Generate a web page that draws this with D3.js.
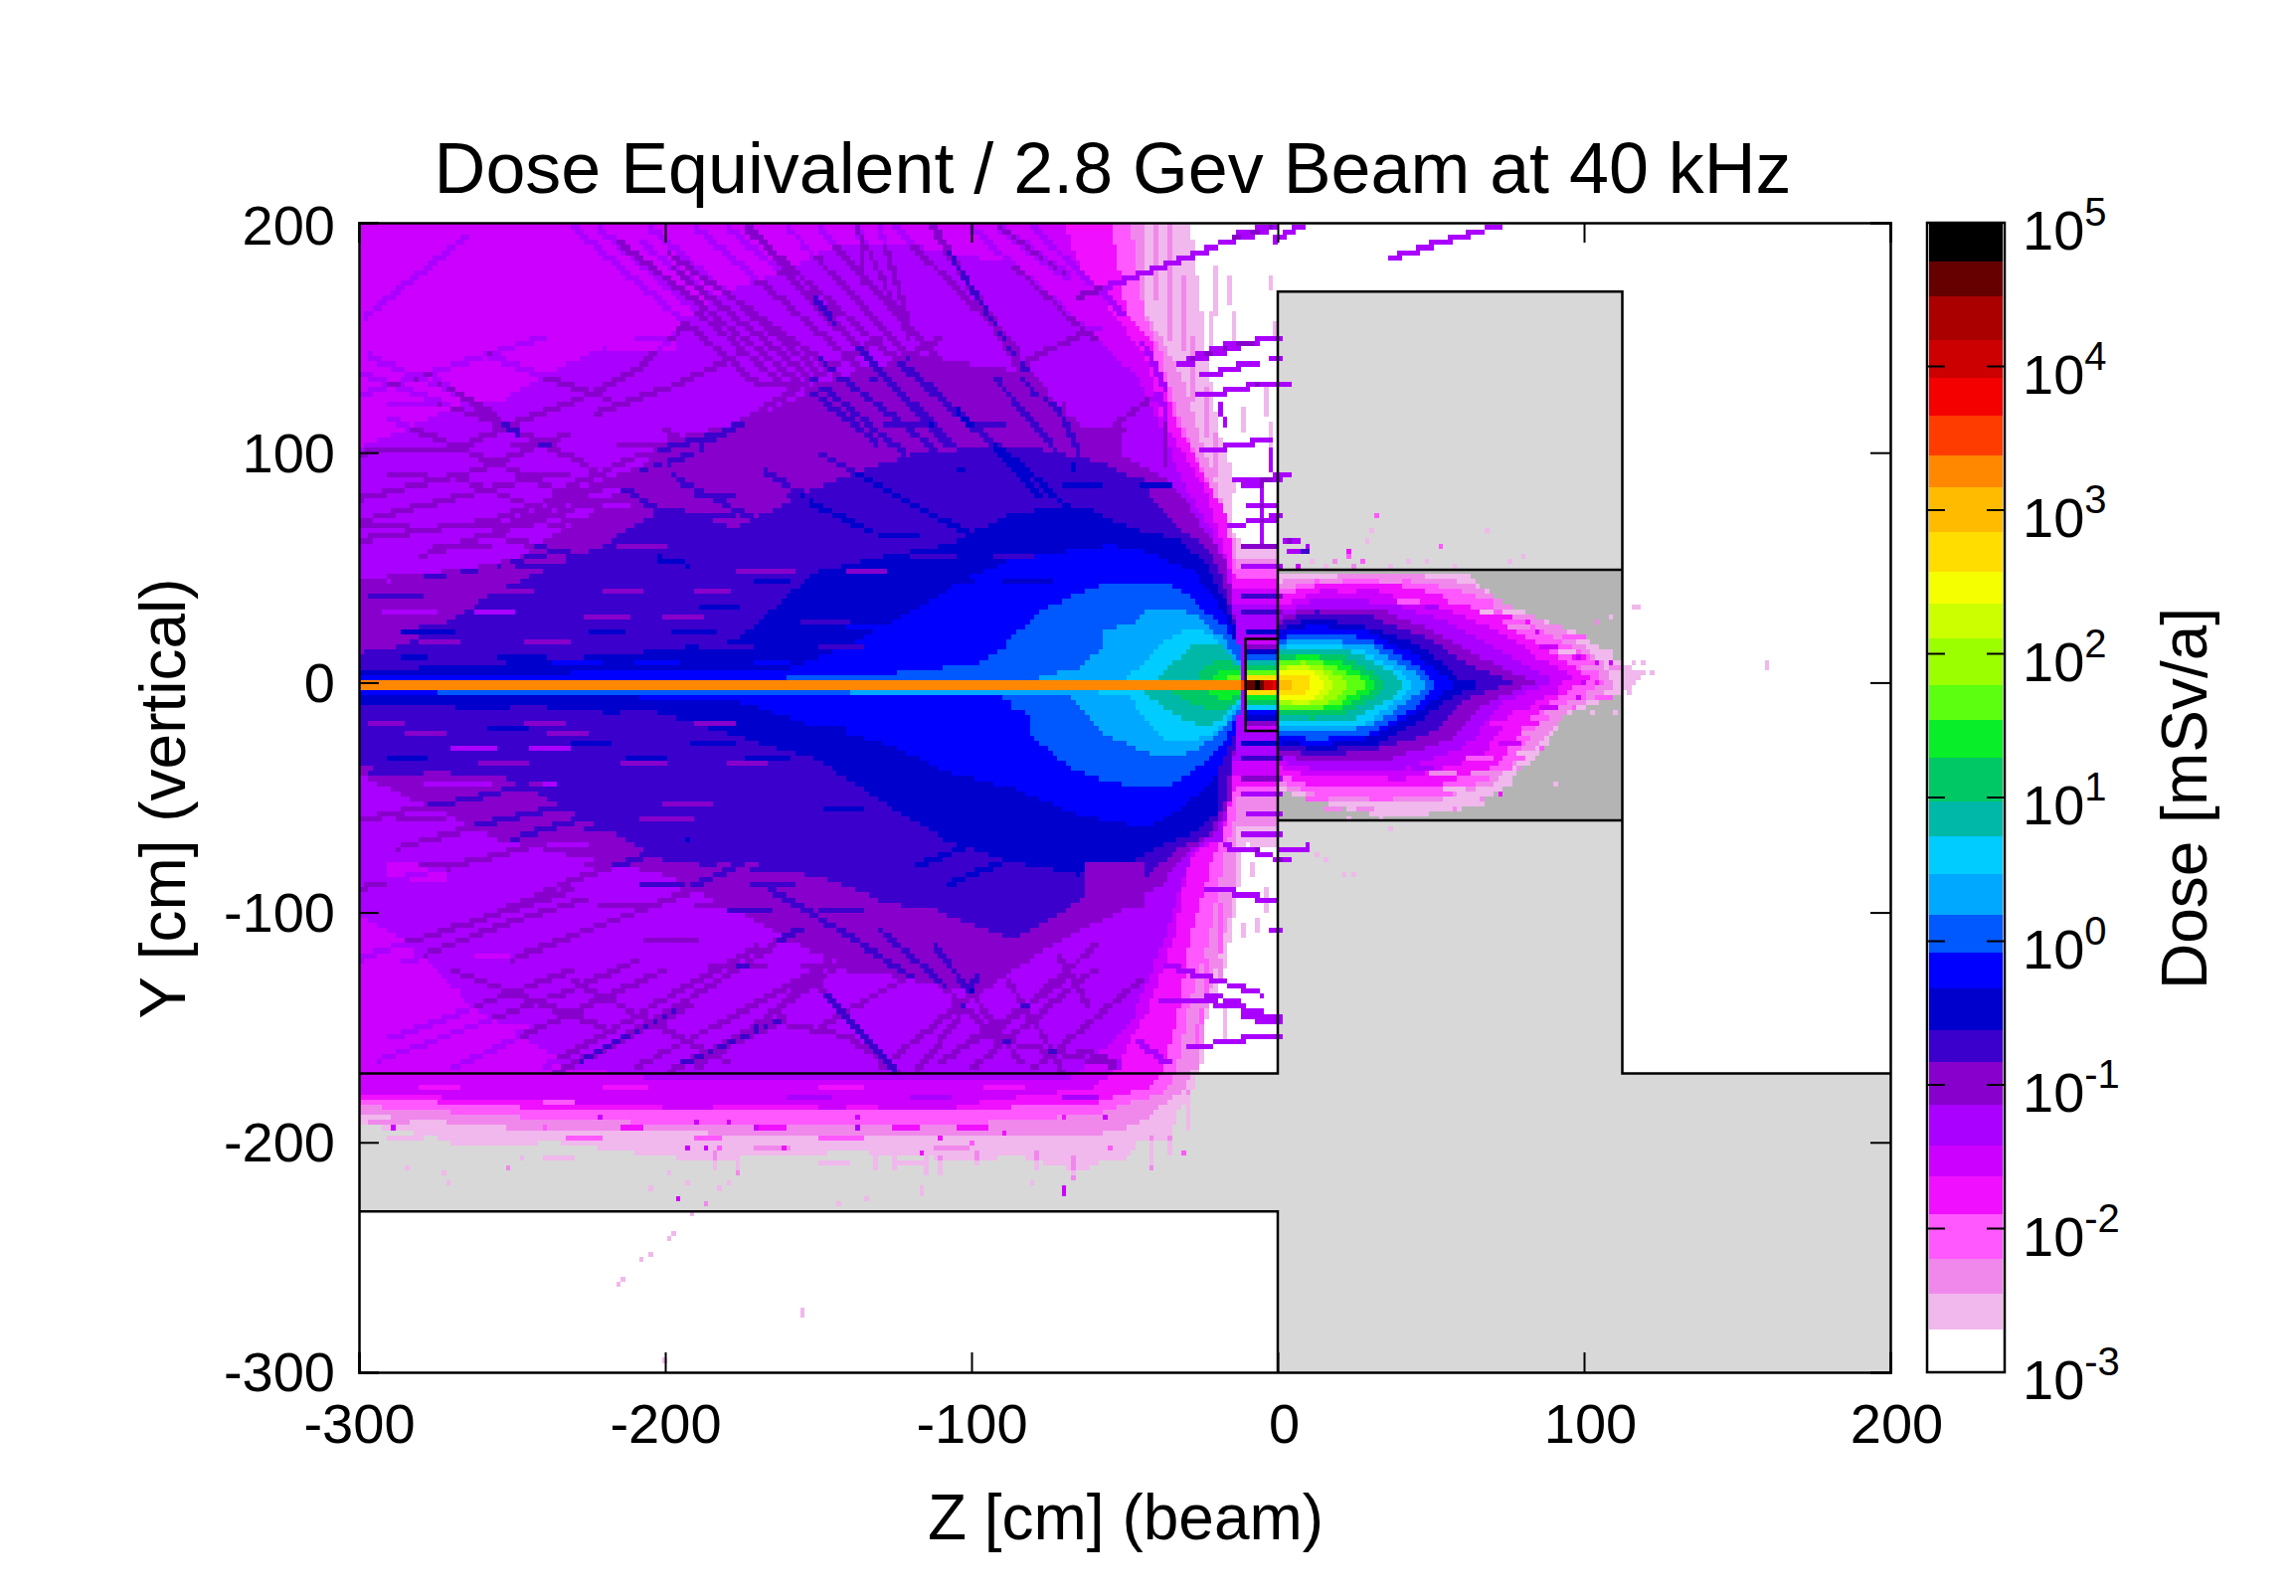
<!DOCTYPE html>
<html>
<head>
<meta charset="utf-8">
<script src="https://cdn.jsdelivr.net/npm/d3@7"></script>
<style>
  html, body { margin: 0; padding: 0; background: #fff; }
  text { font-family: "Liberation Sans", Arial, sans-serif; fill: #000; }
</style>
</head>
<body>
<div id="chart-area"></div>
<script>
// ---- axis values
const zTicks = [-300, -200, -100, 0, 100, 200];
const yTicks = [-300, -200, -100, 0, 100, 200];
const doseDecades = [-3, -2, -1, 0, 1, 2, 3, 4, 5];

// ---- palette: log10 dose edges and colours, lowest band (white) first
const bandEdges = [-3, -2.7, -2.45, -2.21, -1.9, -1.64, -1.42, -1.14, -0.84, -0.62, -0.33, -0.08, 0.18, 0.47, 0.73, 0.97,
    1.28, 1.54, 1.78, 2.11, 2.35, 2.57, 2.85, 3.16, 3.38, 3.66, 3.92, 4.18, 4.49, 4.73, 5];
const bandColors = ["#ffffff", "#f0b8ec", "#f088ec", "#ff58ff", "#f010ff", "#cc00ff", "#aa00ff", "#8800cc", "#3c00cc", "#0000cc",
    "#0000ff", "#0058ff", "#00a8ff", "#00ccff", "#00b8a8", "#00c864", "#08ee28", "#5cff10", "#9cff00", "#ccff00",
    "#f5ff00", "#ffdd00", "#ffbb00", "#ff8800", "#ff3c00", "#f50000", "#cc0000", "#aa0000", "#660000", "#000000"];

// ---- geometry [z, y] in cm
const wallGray = [[0, 170], [112.5, 170], [112.5, -170], [200, -170], [200, -300], [0, -300], [0, -230], [-300, -230], [-300, -170], [0, -170]];
const wallDark = [[0, 49], [112.5, 49], [112.5, -60], [0, -60]];
const outlineUpper = [[-300, -170], [0, -170], [0, 170], [112.5, 170], [112.5, -170], [200, -170]];
const outlineLower = [[-300, -230], [0, -230], [0, -300]];
const outlineDarkTop = [[0, 49], [112.5, 49]];
const outlineDarkBottom = [[0, -60], [112.5, -60]];
const outlineTarget = [[0, 19], [-10.5, 19], [-10.5, -21], [0, -21]];

// ---- iso-dose outlines upstream of the target, index 0 = band 1
const leftContours = [
    [[-300, 205], [-29, 205], [-27, 185], [-25, 165], [-24, 149], [-22, 133], [-20, 115], [-18, 103], [-15, 92], [-14, 85], [-16, 67], [-11, 60], [0, 60], [0, -72], [-11, -70], [-12, -80], [-13, -92], [-15, -108], [-17, -124], [-22, -140], [-24, -150], [-26, -170], [-28, -178], [-32, -185], [-35, -198], [-46, -200], [-48, -205], [-55, -206], [-62, -212], [-70, -211], [-85, -206], [-100, -208], [-120, -206], [-140, -204], [-162, -206], [-180, -207], [-203, -206], [-235, -200], [-265, -201], [-285, -195], [-300, -192]],
    [[-300, 205], [-44, 205], [-43, 160], [-36.5, 146], [-31, 132], [-24.6, 103], [-19, 83], [-17, 70], [-14, 62], [-14, 55], [0, 55], [0, -62], [-13, -62], [-14, -75], [-14, -92], [-20, -124], [-24.6, -147], [-28, -170], [-30, -176], [-45, -192], [-60, -197], [-100, -198], [-145, -198], [-200, -195], [-240, -195], [-300, -188]],
    [[-300, 205], [-48.4, 205], [-45, 170], [-43, 159], [-38.7, 146], [-34.3, 123], [-27, 100], [-20.3, 80], [-17, 60], [-13, 50], [0, 50], [0, -50], [-13, -50], [-14, -60], [-18, -78], [-22.5, -112], [-29, -141], [-33, -170], [-37, -178], [-60, -188], [-100, -192], [-140, -193], [-200, -192], [-240, -190], [-300, -184]],
    [[-300, 205], [-55, 205], [-49.5, 160], [-41, 147.6], [-38.7, 132], [-32, 111], [-24.6, 91], [-17, 74], [-14, 45], [0, 45], [0, -45], [-14, -45], [-17, -62], [-21.5, -78], [-29, -112], [-32, -141], [-37.6, -170], [-42, -176], [-60, -183], [-120, -187], [-180, -187], [-224, -186], [-300, -182]],
    [[-300, 205], [-71, 205], [-64.6, 181], [-56, 165], [-50.6, 155], [-42, 139], [-38.7, 117], [-31, 100], [-23.5, 83], [-19, 65], [-14, 40], [0, 40], [0, -40], [-14, -40], [-18, -62], [-23.5, -71], [-29, -78], [-34, -112], [-43, -144], [-53.8, -169], [-60, -176], [-100, -183], [-120, -185], [-224, -183], [-300, -179]],
    [[-300, 103], [-285, 110], [-265, 122], [-253, 123], [-230, 140], [-215, 148], [-199, 153], [-180, 170], [-160, 180], [-145, 190], [-118, 190], [-86, 182], [-62, 153], [-45, 132], [-36.5, 106], [-30, 84], [-21, 65], [-15, 35], [0, 35], [0, -35], [-15, -35], [-18, -68], [-27, -72], [-31, -85], [-36.6, -110], [-48, -148], [-64.6, -169], [-70, -173], [-120, -173], [-200, -173], [-231, -167], [-263, -141], [-285, -112], [-300, -101]],
    [[-300, 42], [-285, 45], [-253, 51], [-220, 77], [-199, 106], [-172, 114], [-145, 132], [-118, 142], [-86, 136], [-54, 101], [-36.5, 88], [-31, 81], [-23.5, 65], [-17, 54], [-15, 38], [-14, 26], [-14, -26], [-15, -50], [-21, -66], [-30, -73.6], [-37.6, -88], [-54, -101], [-75, -115], [-97, -135], [-129, -127], [-151, -118], [-199, -84], [-253, -69], [-300, -40]],
    [[-300, 13], [-285, 16], [-253, 41], [-220, 60], [-199, 77], [-177, 67], [-151, 85], [-118, 100], [-86, 103], [-69, 100], [-54, 94], [-43, 84], [-32, 67], [-23.5, 60], [-18, 45], [-15, 31], [-13, 20], [-13, -18], [-17, -52], [-22.5, -66], [-32, -72], [-43, -84], [-64.6, -95], [-86, -112], [-108, -101], [-129, -95], [-151, -84], [-199, -78], [-253, -41], [-300, -37]],
    [[-300, 5], [-263, 8], [-220, 11], [-177, 18], [-151, 48], [-129, 55], [-108, 60], [-86, 74], [-64, 77], [-48, 67], [-32, 62], [-23.5, 52], [-17, 35], [-13, 20], [-13, -20], [-20, -40], [-20, -57], [-28, -66], [-37, -70], [-48, -78], [-65, -84], [-86, -78], [-108, -69], [-129, -52], [-151, -33], [-170, -26], [-200, -14], [-253, -12], [-300, -10]],
    [[-300, 3], [-253, 4], [-199, 5], [-160, 6], [-140, 16], [-119, 31], [-102, 45], [-86, 54], [-54, 60], [-43, 57], [-27, 48], [-18, 31], [-13, 16], [-13, -20], [-15, -25], [-21, -43], [-32, -55], [-43, -63], [-65, -58], [-86, -46], [-108, -39], [-129, -26], [-151, -19], [-165, -13], [-180, -7], [-253, -6], [-300, -5.5]],
    [[-160, 2.5], [-138, 3], [-118, 5], [-97, 9], [-90, 14], [-86, 21], [-78, 31], [-66, 38], [-56, 43], [-43, 44], [-32, 41], [-25, 32], [-17, 24], [-12, 14], [-12, -10], [-13, -14.5], [-18, -26], [-25, -36], [-32, -43], [-40, -46], [-56, -43], [-67, -38], [-75, -29], [-81, -23], [-81, -14], [-87, -11.6], [-86, -7], [-100, -5.5], [-151, -5.5], [-275, -5.5], [-275, -2], [-160, -2]],
    [[-77.6, 2.7], [-64.6, 6.3], [-57, 16], [-57, 22], [-47, 26.5], [-43, 32], [-32, 32], [-25, 28], [-18, 19], [-12, 8], [-12, -10], [-13, -12], [-18, -20], [-25, -28], [-32, -32], [-40, -32], [-48, -27.5], [-56, -23], [-61, -16], [-65, -10], [-70, -4.5], [-140, -4.5], [-140, -2], [-78, -2]],
    [[-49, 3], [-43, 9], [-38, 17], [-32, 22], [-26, 24], [-21, 20], [-16, 13], [-12.5, 5], [-12, -8], [-13.8, -10], [-17, -17.4], [-23, -24], [-36.5, -25], [-44.6, -14.5], [-48, -6], [-69, -3], [-69, -1], [-49, -1]],
    [[-38.7, 3], [-34, 9], [-27, 17], [-19, 17], [-13, 9], [-12, -6], [-13, -7], [-16, -13], [-21.5, -18.8], [-28, -17.4], [-36.5, -11.6], [-45, -3], [-45, -1], [-38.7, -1]],
    [[-25.7, 3], [-23.5, 8], [-17, 10], [-12, 7], [-12, -7], [-13, -8.7], [-20.3, -13], [-29, -8.7], [-36.5, -3], [-36, -1], [-26, -1]],
    [[-21, 3], [-17, 6], [-12, 5], [-12, -5], [-13, -6], [-18, -7.3], [-24.6, -3], [-24, -1], [-21, -1]],
    [[-16, 3], [-12, 3], [-12, -4], [-13, -4.4], [-18.7, -3], [-18, -1], [-16, -1]]
];

// ---- the beam pipe itself and the hot spot in the target
const beamRow = [[-300, 1.1], [-12.4, 1.1], [-12.4, -3.3], [-300, -3.3]];
const beamLevel = 23;
const coreEdges = [-12.4, -10.3, -8.1, -6.2, -4.3, -2.2, 0];
const coreLevels = [24, 28, 29, 28, 26, 25];

// ---- rings inside the target box: band, upper y, lower y
const boxLevels = [5, 7, 8, 9, 10, 11, 12, 13, 14, 15, 16, 17, 18, 19, 20, 21, 22];
const boxTop = [18.6, 16.9, 15, 13.5, 12.1, 11.4, 10.5, 10, 8.8, 7.1, 5.7, 4.9, 4.2, 3.8, 3.5, 2.8, 2.2];
const boxBottom = [-20.6, -18.9, -17.4, -16, -13.8, -12.8, -12.4, -11.5, -10.9, -9.5, -7.3, -6.5, -5.9, -5.2, -4.8, -4.4, -3.7];

// ---- iso-dose outlines inside the wall, index 0 = band 1
const lobeContours = [
    [[0, 47], [30, 48], [62.6, 47.4], [71, 36], [81.5, 30], [96, 23], [113, 8.5], [120.6, 4], [113, -4.5], [93, -14.6], [87, -29], [78.6, -39], [71, -48], [58, -56], [35, -59], [9, -50.6], [0, -46]],
    [[0, 43], [14, 46], [45, 47], [64, 42], [80, 31], [94, 22], [106, 9], [110, -2], [96, -12], [84, -28], [70, -44], [48, -53], [20, -52], [0, -45]],
    [[0, 40], [12, 44], [40, 45], [60, 40], [78, 28], [90, 20], [104, 9], [106, 0], [94, -9], [84, -20], [76, -38], [54, -50], [14, -49], [0, -43]],
    [[0, 37], [12, 42], [40, 42], [56, 37], [74, 26], [84, 17], [96, 8], [102, 2], [92, -6], [82, -16], [72, -36], [50, -46], [12, -45], [0, -40]],
    [[0, 33], [12, 39], [35, 38], [55, 32], [72, 22], [84, 12], [96, 3], [88, -6], [76, -14], [66, -33], [42, -42], [12, -41], [0, -37]],
    [[0, 30], [12, 36], [35, 35], [55, 27], [68, 17], [90, 1], [72, -10], [62, -28], [40, -38], [12, -38], [0, -34]],
    [[0, 28], [12, 33], [35, 31], [50, 23], [65, 12], [84, 0], [68, -9], [56, -25], [35, -34], [12, -35], [0, -31]],
    [[0, 26], [12, 31], [30, 29], [48, 20], [62, 8], [77, 0], [62, -7], [50, -22], [30, -30], [12, -32], [0, -29]],
    [[0, 23], [12, 28], [30, 24], [48, 15], [60, 1], [68, -1], [58, -5], [46, -17], [30, -28], [12, -29], [0, -27]],
    [[0, 21], [12, 25], [30, 22], [46, 11], [58, -1], [46, -13], [30, -24], [12, -27.5], [0, -24]],
    [[0, 19], [12, 22], [30, 19], [45, 8], [52, -1], [45, -11], [30, -22], [12, -25], [0, -22]],
    [[0, 17], [12, 19], [30, 16], [43, 6], [49, -1], [43, -8], [30, -19], [12, -22], [0, -20]],
    [[0, 15], [12, 17], [28, 14], [40, 5], [45, -1], [40, -7], [28, -18], [12, -19.5], [0, -18]],
    [[0, 13.5], [12, 15], [25, 13], [38, 4], [42, -1], [38, -6], [25, -16], [12, -17.5], [0, -16]],
    [[0, 12], [11, 13], [22, 11], [33, 3], [36, -1], [33, -5], [22, -14], [11, -15.5], [0, -14]],
    [[0, 10.5], [11, 11.5], [20, 9], [30, 3], [32, -1], [30, -4], [20, -12], [11, -13], [0, -12.5]],
    [[0, 9], [10, 10], [18, 8], [28, 1], [28, -3], [18, -10.5], [10, -12], [0, -11]],
    [[0, 7.5], [9, 9], [16, 6], [23, 1], [23, -3], [16, -9], [9, -11], [0, -9.5]],
    [[0, 6], [8, 7.5], [14, 5], [18, 1], [18, -3], [14, -8], [8, -9.5], [0, -8]],
    [[0, 4.5], [7, 6], [12, 5], [15, 1], [15, -3], [12, -7], [7, -8], [0, -6.5]],
    [[0, 3], [8, 4], [10, 2], [10, -4], [8, -6], [0, -5]],
    [[0, 1.5], [4, 1.5], [4, -3], [0, -3]]
];

// ---- patches that break up the bands: z0, y0, z1, y1, band
const patches = [
    [-140, -105, -108, -125, 7], [-128, -98, -112, -105, 7], [-62, -80, -44, -96, 7], [-218, 154, -198, 146, 5], [-285, 160, -262, 150, 5],
    [-238, -118, -218, -124, 6], [-290, -80, -272, -86, 5], [-60, 88, -45, 82, 8], [-70, 110, -52, 98, 7]
];

// ---- broken rows of the mottled field: y, band, then z start/end pairs
const mottleRows = [
    [150, 6, [-210, -198, -176, -160]], [130, 7, [-170, -158, -120, -108]], [120, 6, [-290, -274]], [112, 8, [-128, -116, -100, -90]], [104, 7, [-250, -236, -216, -202]],
    [95, 8, [-100, -88, -74, -60]], [90, 7, [-290, -278, -246, -232, -205, -190]], [86, 9, [-70, -58, -44, -36]], [82, 8, [-190, -178, -160, -146, -128, -115]], [76, 6, [-285, -268, -226, -212]],
    [72, 8, [-196, -178, -150, -136, -104, -90]], [68, 7, [-300, -285, -262, -244, -230, -218]], [64, 9, [-130, -118, -98, -84, -76, -60]], [60, 7, [-276, -258, -240, -226, -216, -200]],
    [56, 8, [-192, -176, -158, -146, -120, -106, -92, -80]], [52, 6, [-300, -288, -270, -256]], [50, 8, [-248, -232, -212, -200]], [48, 7, [-176, -158, -140, -128]],
    [44, 9, [-170, -160, -148, -136, -112, -100, -90, -74]], [40, 7, [-260, -244, -226, -208, -190, -180]], [38, 8, [-296, -280, -240, -228, -178, -166]], [34, 9, [-188, -176, -160, -148, -132, -120]],
    [30, 6, [-292, -276, -262, -250]], [28, 7, [-226, -212, -200, -188]], [26, 8, [-246, -232, -180, -170, -156, -140]], [24, 10, [-140, -128, -112, -100, -92, -84]], [22, 9, [-286, -270, -224, -214, -198, -184]],
    [18, 7, [-280, -268, -246, -232]], [16, 8, [-216, -204, -188, -172, -150, -136]], [14, 10, [-130, -118, -104, -96]], [12, 9, [-290, -278, -254, -240, -226, -210]], [10, 8, [-300, -288, -270, -256]], [8, 10, [-236, -222, -210, -196, -170, -160]],
    [-8, 9, [-296, -280, -262, -250, -240, -226]], [-10, 8, [-282, -270, -250, -240]], [-14, 8, [-298, -284, -268, -256, -214, -204]], [-17, 7, [-296, -286, -246, -234, -190, -178]], [-20, 9, [-258, -246, -176, -166, -155, -142]],
    [-23, 7, [-284, -272, -238, -226]], [-26, 9, [-230, -218, -192, -178]], [-29, 6, [-270, -256, -244, -232]], [-32, 9, [-290, -278, -212, -200, -174, -160]], [-36, 7, [-260, -246, -214, -200, -180, -168]],
    [-40, 8, [-296, -280, -238, -226, -206, -196]], [-44, 6, [-278, -258, -244, -236]], [-48, 8, [-224, -212, -190, -176, -160, -146]], [-52, 7, [-262, -246, -200, -186]], [-56, 9, [-148, -136, -124, -112]],
    [-60, 7, [-288, -272, -248, -232, -208, -192]], [-64, 8, [-226, -212, -184, -170, -146, -132]], [-70, 6, [-268, -254, -240, -226]], [-74, 8, [-208, -196, -178, -162]], [-80, 7, [-280, -266, -226, -208, -182, -170]],
    [-88, 8, [-208, -194, -172, -158, -140, -128]], [-96, 7, [-222, -208, -190, -172]], [-100, 8, [-180, -166, -150, -136]], [-104, 6, [-284, -270, -252, -238]], [-112, 7, [-206, -190, -164, -146]],
    [-118, 5, [-298, -280, -262, -250]], [-124, 7, [-186, -168, -156, -142]], [-135, 5, [-298, -284, -280, -268]], [-150, 5, [-296, -280, -262, -246]],
    [-176, 4, [-280, -268, -220, -206, -150, -136, -96, -84]], [-180, 6, [-160, -146, -120, -108, -70, -60]], [-182, 3, [-290, -276, -240, -230]], [-185, 5, [-200, -186, -150, -142, -118, -106]], [-188, 3, [-226, -212, -176, -160, -92, -80]],
    [-191, 2, [-296, -284, -258, -246, -62, -54]], [-194, 4, [-214, -208, -170, -162, -126, -118, -104, -96]], [-197, 1, [-290, -280, -262, -250, -60, -50]], [-197, 3, [-232, -222, -190, -182, -148, -136]],
    [-200, 1, [-270, -260, -220, -210, -130, -118, -86, -76]], [-203, 2, [-170, -160, -112, -102]], [-206, 1, [-240, -230, -196, -184, -64, -50]], [-209, 1, [-150, -140, -124, -116, -74, -64]],
    [44, 2, [2, 6, 14, 20, 34, 40, 52, 58]], [40, 5, [14, 18, 26, 32]], [36, 3, [40, 46, 56, 62, 66, 70]], [32, 6, [34, 40, 48, 52]], [30, 1, [66, 70, 74, 80]], [28, 4, [62, 66, 70, 76]], [25, 2, [76, 82, 88, 92]],
    [20, 3, [82, 86, 94, 100]], [16, 5, [76, 80, 86, 90]], [14, 1, [92, 96, 104, 108]], [10, 4, [84, 90, 96, 100]], [6, 2, [100, 104, 108, 112]], [4, 5, [86, 92]],
    [-6, 3, [94, 100, 104, 110]], [-10, 5, [76, 82, 86, 92]], [-14, 2, [88, 94]], [-18, 4, [70, 76, 80, 84]], [-22, 2, [80, 86]], [-26, 5, [62, 68, 72, 78]], [-30, 1, [78, 84]], [-34, 3, [62, 70, 74, 80]],
    [-38, 6, [44, 50]], [-40, 2, [50, 58, 64, 72]], [-44, 4, [22, 28, 38, 44]], [-46, 1, [54, 60, 66, 72]], [-50, 3, [10, 16, 30, 36]], [-52, 1, [40, 48, 58, 66]], [-54, 2, [16, 20, 26, 30]]
];

// ---- single bins: z, y, band
const specks = [
    [32.2, 72, 3], [30.8, 66.9, 1], [29.3, 61.9, 1], [22.8, 58.2, 4], [7.5, 57.5, 7], [9, 57.5, 7], [3.2, 62, 6], [52.5, 60.4, 3], [68.5, 66, 1], [22.8, 54.6, 3],
    [27.9, 51.8, 3], [6.1, 49.9, 5], [11.9, 53.2, 1], [42.4, 53.2, 1], [48, 53.2, 1], [76.4, 52.5, 1], [80.8, 54.6, 1], [15, 51, 1], [18, 52, 2], [24, 51, 2], [36, 51, 1], [58, 51, 1],
    [117.8, 33.7, 1], [116, 33.7, 1], [108.3, 28, 1], [104.7, 25.8, 2], [116.3, 8.5, 1], [119, 8.5, 1], [117.8, 4.2, 1], [122, 4.2, 1], [114.1, -4.5, 1],
    [160.4, 8, 1], [160.4, 6, 1], [22.8, -58.5, 1], [34.4, -59.3, 1], [36.6, -63.6, 1], [58.3, -55.7, 2], [66.3, -50.6, 2], [72.8, -47.7, 4], [76.4, -43.4, 1], [90.2, -43.4, 1],
    [78.6, -36.9, 2], [86.6, -29, 3], [102.5, -13.9, 1], [110.5, -14, 1], [12, -75, 1], [15, -78, 1], [22, -83, 1], [25, -84, 1],
    [84.4, 22.9, 5], [81.5, 25.8, 4], [98.9, 10, 5], [104.7, 8.5, 5], [108, 8.5, 5], [93.1, -0.2, 4], [96, -0.2, 4], [100.4, 0.6, 5], [104.7, 0.6, 4], [90.2, -4.5, 5], [98.9, -5.9, 5], [92, 12, 3], [88, 18, 3], [100, 16, 2], [96, -10, 3], [84, -18, 4],
    [-195.4, -225, 5], [-187, -227, 2], [-191, -231.5, 1], [-197, -239.4, 1], [-199, -241, 1], [-205.4, -249.5, 1], [-207.4, -251, 1], [-213.6, -259, 1], [-215, -261, 1],
    [-155, -272, 1], [-155, -274, 1], [-155, -276, 1], [-201, -295, 1], [-69.4, -220, 5], [-69.4, -222, 5], [-117, -220, 1], [-117, -222, 1], [-143, -226.7, 1], [-135, -225, 1],
    [-205, -221, 1], [-182.6, -220.7, 1], [-176.4, -213, 1], [-179.5, -218, 1], [-193, -218, 1], [-199, -213.5, 1], [-272.6, -212.7, 1], [-271, -217.8, 1], [-252, -211, 2], [-246.8, -207.7, 1], [-285, -210.6, 1],
    [-81, -217.8, 1], [-66.7, -216.4, 1], [-41.4, -210.6, 1], [-31.5, -204.8, 3], [-54.3, -202.7, 3], [-117, -204.8, 4], [-161, -201.6, 4], [-181.6, -202, 3], [-193, -203, 5], [-187, -203, 5], [-289, -193.7, 5],
    [-137.5, -193.7, 6], [-111, -197, 4], [-55.7, -189, 5], [-138, -189, 5], [-190, -191, 5], [-179.5, -191, 5], [-169.6, -193.7, 5], [-222, -190, 5], [-150, -197, 3], [-90, -196, 4], [-70, -190, 4], [-240, -193, 3], [-260, -190, 2], [-100, -200, 3]
];

// ---- tracks through the bands: added dose, then [z, y] vertices
const upperStreaks = [
    [0.045, [-215.7, 192.4], [-130.8, 104.4]], [0.05, [-174, 198], [-100, 111.6]], [0.035, [-208, 192], [-118, 96]], [0.045, [-198, 181], [-122, 100]],
    [0.035, [-137, 198], [-120.5, 150.5]], [0.045, [-112, 198], [-79, 124.6]], [0.035, [-91.5, 198], [-69, 176]], [0.035, [-82, 140], [-58, 155]],
    [0.035, [-298, 159], [-265, 194]], [0.035, [-300, 100], [-269, 101.5], [-248.5, 113], [-227, 124], [-207.4, 137.6], [-194.5, 155]],
    [0.035, [-222.5, 117], [-195.6, 130], [-177, 142]], [0.035, [-277.7, 134.7], [-248.5, 108.7]], [0.035, [-257, 142], [-218, 123]], [0.03, [-297, 142], [-272, 128], [-256, 117]],
    [0.045, [-198.8, 186.6], [-144.8, 136]], [0.05, [-172.9, 198], [-144.8, 155]], [0.035, [-180, 198], [-144.8, 160]], [0.035, [-137, 199.6], [-135, 173.6]],
    [0.035, [-130.5, 199.6], [-120.8, 157.8]], [0.05, [-114, 199.6], [-82, 136]], [0.035, [-90.5, 198], [-69, 178]], [0.06, [-151, 166.4], [-129.4, 134.7], [-105.6, 103]],
    [0.05, [-137, 146], [-108, 103]], [0.05, [-83, 139], [-70, 114.5], [-64.6, 100]], [0.05, [-44, 147.6], [-36.5, 127.5]], [0.045, [-37.6, 123], [-36.5, 94.3]],
    [0.035, [-53.8, 111.6], [-38.7, 126]], [0.05, [-150, 140], [-122, 112], [-96, 84]], [0.06, [-120, 136], [-95, 106], [-78, 82]], [0.06, [-105, 118], [-82, 92], [-60, 66]],
    [0.05, [-92, 132], [-72, 100], [-52, 76]], [0.045, [-262, 118], [-228, 96], [-196, 70]], [0.045, [-236, 82], [-210, 98], [-178, 110]], [0.035, [-300, 80], [-262, 92], [-232, 108]],
    [0.035, [-300, 62], [-258, 70], [-222, 86], [-196, 98]], [0.05, [-168, 92], [-140, 70], [-112, 50]], [0.06, [-150, 100], [-120, 78], [-92, 58]], [0.05, [-198, 90], [-170, 70]],
    [0.045, [-256, 64], [-220, 52], [-182, 52]], [0.05, [-300, 44], [-266, 48], [-232, 58]], [0.045, [-242, 35], [-210, 44], [-186, 60]], [0.045, [-280, 24], [-240, 30], [-200, 36]]
];
const lowerStreaks = [
    [0.035, [-293.8, -164.5], [-231, -134], [-209.6, -121]], [0.05, [-227, -164.5], [-198.8, -143], [-176, -124], [-155.6, -107]], [0.045, [-198.8, -169], [-161, -147]],
    [0.06, [-117.5, -169], [-104.5, -145.7], [-98, -127]], [0.045, [-144.5, -141.4], [-129.4, -163]], [0.05, [-151, -130], [-137, -150], [-125, -169]], [0.045, [-64.6, -160], [-51.6, -166]],
    [0.05, [-147.4, -135.6], [-124.6, -170]], [0.05, [-236, -170], [-191, -140]], [0.05, [-195, -166], [-162, -145.7]], [0.035, [-162, -148], [-140, -154], [-124, -170]],
    [0.045, [-100, -153], [-52, -167]], [0.045, [-88, -130], [-76, -155], [-70, -170]], [0.05, [-112, -115], [-100, -135], [-84, -165]], [0.045, [-72, -118], [-62, -140]],
    [0.05, [-130, -108], [-112, -128], [-96, -150]], [0.05, [-166, -90], [-140, -110], [-120, -128]], [0.05, [-196, -92], [-168, -74], [-146, -62]], [0.045, [-262, -104], [-226, -84], [-190, -68]],
    [0.035, [-286, -122], [-250, -104], [-226, -94]], [0.045, [-300, -60], [-262, -50], [-226, -38]], [0.045, [-288, -72], [-254, -60], [-220, -50]], [0.05, [-250, -68], [-208, -52], [-168, -42]],
    [0.05, [-205, -72], [-170, -58], [-150, -48]], [0.06, [-118, -80], [-100, -70], [-82, -62]], [0.06, [-108, -88], [-84, -75], [-72, -62]]
];
// fainter, one band deep
const fineStreaks = [
    [0.025, [-230, 198], [-170, 130]], [0.025, [-222, 198], [-160, 128]], [0.025, [-205, 198], [-150, 135]], [0.025, [-190, 198], [-130, 130]], [0.025, [-160, 198], [-112, 130]], [0.025, [-150, 198], [-100, 124]],
    [0.025, [-125, 198], [-85, 145]], [0.025, [-100, 198], [-60, 150]], [0.025, [-80, 198], [-50, 160]], [0.025, [-300, 125], [-240, 150]], [0.025, [-300, 70], [-240, 90]], [0.03, [-280, 55], [-220, 80]],
    [0.025, [-250, 70], [-190, 100]], [0.025, [-210, 85], [-160, 125]], [0.025, [-185, 105], [-130, 150]], [0.025, [-160, 110], [-110, 150]], [0.03, [-130, 100], [-80, 135]], [0.03, [-120, 80], [-70, 120]], [0.03, [-80, 80], [-50, 110]],
    [0.025, [-300, 135], [-240, 105]], [0.025, [-290, 115], [-220, 75]], [0.03, [-270, 90], [-190, 50]], [0.03, [-240, 70], [-170, 40]], [0.03, [-200, 110], [-140, 70]], [0.04, [-160, 80], [-100, 50]],
    [0.025, [-290, -155], [-230, -125]], [0.025, [-270, -168], [-200, -125]], [0.025, [-240, -168], [-170, -115]], [0.025, [-210, -168], [-150, -125]], [0.03, [-190, -168], [-130, -110]], [0.03, [-170, -150], [-130, -100]],
    [0.03, [-130, -168], [-85, -120]], [0.03, [-100, -168], [-60, -125]], [0.025, [-80, -168], [-45, -130]], [0.04, [-150, -110], [-105, -80]], [0.025, [-300, -90], [-240, -70]], [0.025, [-300, -120], [-230, -90]],
    [0.025, [-250, -120], [-190, -90]], [0.025, [-220, -150], [-270, -125]], [0.025, [-180, -165], [-230, -130]], [0.03, [-110, -120], [-150, -150]], [0.03, [-70, -130], [-110, -165]], [0.03, [-60, -115], [-90, -150]]
];
const fringeStreaks = [
    [0.055, [-64.6, 167.9], [-38.5, 180.8], [-26.6, 186.6], [-21.4, 189.5], [-0.7, 198]], [0.055, [-1, 192], [8, 199]], [0.055, [36, 184.4], [72.7, 199]], [0.055, [-15, 194], [-3, 198]],
    [0.055, [-29.9, 140.5], [-18, 146], [0, 150]], [0.055, [-32, 138], [-18, 144], [-8, 148]], [0.055, [-25.5, 134], [-19, 134.7]], [0.055, [-19, 135.4], [-7, 139.7]], [0.055, [-1.8, 140], [1, 140]],
    [0.055, [-17, 128], [-7, 129]], [0.055, [-6.6, 130.4], [3.6, 130.4]], [0.055, [-26, 126], [-17, 126]], [0.055, [-19.5, 121], [-17, 112]],
    [0.055, [-17.4, 104.4], [-8, 104.4]], [0.055, [-8, 106.6], [-1.8, 106.6]], [0.055, [-24.5, 102], [-18, 102]], [0.055, [-13.7, 87], [3.6, 90]], [0.055, [-12, 85], [0, 88]],
    [0.05, [-1.8, 101.5], [-1.8, 93]], [0.05, [-6, 87], [-6, 62.6]], [0.055, [-16, 68], [-11, 68]], [0.05, [-10.5, 77], [-1, 76.5]], [0.05, [-10.5, 70.5], [-1, 70.5]],
    [0.055, [-1.8, 72], [1, 72]], [0.055, [4.2, 56.8], [9.5, 58.3]], [0.05, [2, 62], [6, 62]],
    [0.055, [0, -72], [10, -71.5]], [0.055, [-7.4, -73.6], [0, -76.5]], [0.055, [0, -77], [3, -77]], [0.055, [-18, -71], [-7.4, -73.6]],
    [0.055, [-23.6, -89.5], [-12.8, -91.6], [-0.9, -95.3]], [0.055, [-36.5, -122.7], [-21.4, -129], [-5.2, -135.6]], [0.055, [-38.7, -138.5], [-16, -140], [0, -146]], [0.055, [-12, -145], [1, -148]],
    [0.055, [-30, -159], [-13.8, -156], [-6.3, -153.7], [0.7, -153.7]], [0.055, [-24, -136], [-12.5, -139]], [0.055, [-46, -156], [-36, -166]], [0.055, [-2, -108], [0, -108]]
];
// horizontal stripes in the gap between target and wall face
const stripStreaks = [
    [0.1, [-12, 59], [-1, 59]], [0.06, [-11, 50], [0, 50]], [0.12, [-12, 37], [0, 37]], [0.1, [-11, 30], [0, 30]], [0.2, [-10, 21.5], [0, 21.5]],
    [0.2, [-12, -26], [0, -26]], [0.1, [-12, -33], [0, -33]], [0.06, [-11, -42], [0, -42]], [0.05, [-12, -49], [0, -49]], [0.06, [-10, -58], [0, -58]], [0.06, [-12, -66], [0, -66]]
];
// thin pale columns in the white gap and hanging below the floor line
const paleStreaks = [
    [0.0025, [-19.8, 181], [-19.8, 160]], [0.0025, [-16, 176], [-16, 164]], [0.0025, [-22.5, 160], [-22.5, 146]], [0.0025, [-13.8, 160], [-13.8, 146]], [0.0025, [-4, 127.5], [-4, 117.4]],
    [0.0025, [-10.6, 119], [-10.6, 109]], [0.0025, [-3, 111.6], [-3, 103]], [0.0025, [-2, 175], [-2, 172]], [0.0025, [-1.5, 156], [-1.5, 152]], [0.0025, [-8.4, -79.4], [-8.4, -83.7]],
    [0.0025, [-4, -91], [-4, -98]], [0.0025, [-6.3, -104], [-6.3, -108.5]], [0.0025, [-11.7, -106], [-11.7, -110]], [0.0025, [-24.6, -144], [-24.6, -166]], [0.0025, [-17.6, -144], [-17.6, -156]], [0.0025, [-19, -122], [-19, -128]],
    [0.0025, [-67, -207], [-67, -216]], [0.0025, [-79, -205], [-79, -212]], [0.0025, [-98, -205], [-98, -210]], [0.0025, [-110, -207], [-110, -213]], [0.0025, [-115, -207], [-115, -214]], [0.0025, [-126, -206], [-126, -212]],
    [0.0025, [-131, -206], [-131, -212]], [0.0025, [-42, -199], [-42, -212]], [0.0025, [-35.5, -199], [-35.5, -205]], [0.0025, [-29.4, -179], [-29.4, -194]], [0.0025, [-183.6, -205], [-183.6, -211]], [0.0025, [-176.4, -207], [-176.4, -214]],
    [0.0025, [-40, 198], [-40, 168]], [0.0025, [-35, 200], [-35, 150]], [0.0025, [-31, 176], [-31, 146]], [0.0025, [-28, 150], [-28, 124]], [0.0025, [-24, 128], [-24, 108]], [0.0025, [-20, 108], [-20, 90]],
    [0.0025, [-27, -150], [-27, -168]], [0.0025, [-23, -120], [-23, -140]], [0.0025, [-19, -96], [-19, -116]]
];

// ---- layout
const width = 2309, height = 1605;
const plot = { left: 361, right: 1901, top: 224, bottom: 1380 };
const bar = { left: 1938, right: 2016 };

const x = d3.scaleLinear().domain([-300, 200]).range([plot.left, plot.right]);
const y = d3.scaleLinear().domain([-300, 200]).range([plot.bottom, plot.top]);
const doseScale = d3.scaleLog().domain([1e-3, 1e5]).range([plot.bottom, plot.top]);
const bandOf = d3.scaleThreshold()
    .domain(bandEdges.slice(1, -1).map(e => Math.pow(10, e)))
    .range(d3.range(bandColors.length));
const midDose = level => Math.pow(10, (bandEdges[level] + bandEdges[level + 1]) / 2);

const svg = d3.select("#chart-area").append("svg")
    .attr("width", width).attr("height", height)
    .style("display", "block");

svg.append("clipPath").attr("id", "frame").append("rect")
    .attr("x", plot.left).attr("y", plot.top)
    .attr("width", plot.right - plot.left).attr("height", plot.bottom - plot.top);

const line = d3.line().x(d => x(d[0])).y(d => y(d[1]));

// wall behind the dose map
svg.append("path").attr("d", line(wallGray) + "Z").attr("fill", "#d8d8d8");
svg.append("path").attr("d", line(wallDark) + "Z").attr("fill", "#b4b4b4");

// ---- dose map, binned like the original
const zStep = 1.5, yStep = 2.2, yOrigin = -300.3;
const zBins = d3.range(-300, 200, zStep);
const yBins = d3.range(yOrigin, 200.5, yStep);
const dose = new Float64Array(zBins.length * yBins.length);
const cell = (i, j) => i * yBins.length + j;
const zIndex = z => Math.floor((z + 300) / zStep);
const yIndex = v => Math.floor((v - yOrigin) / yStep);

// painted low to high, last matching outline wins
const outlines = [];
leftContours.forEach((poly, k) => outlines.push([k + 1, poly]));
outlines.push([beamLevel, beamRow]);
boxLevels.forEach((level, k) => outlines.push([level, [[-10.5, boxTop[k]], [0, boxTop[k]], [0, boxBottom[k]], [-10.5, boxBottom[k]]]]));
lobeContours.forEach((poly, k) => outlines.push([k + 1, poly]));
const outlineBoxes = outlines.map(o => [d3.min(o[1], p => p[0]), d3.max(o[1], p => p[0]), d3.min(o[1], p => p[1]), d3.max(o[1], p => p[1])]);

zBins.forEach((z0, i) => {
    const zc = z0 + zStep / 2;
    yBins.forEach((y0, j) => {
        const yc = y0 + yStep / 2;
        for (let k = outlines.length - 1; k >= 0; k--) {
            const b = outlineBoxes[k];
            if (zc < b[0] || zc > b[1] || yc < b[2] || yc > b[3]) continue;
            if (d3.polygonContains(outlines[k][1], [zc, yc])) {
                dose[cell(i, j)] = midDose(outlines[k][0]);
                break;
            }
        }
    });
});

// a patch only nudges what is already there, it never jumps several bands
const nudge = (i, j, level) => {
    if (i < 0 || i >= zBins.length || j < 0 || j >= yBins.length) return;
    if (Math.abs(bandOf(dose[cell(i, j)]) - level) <= 2) dose[cell(i, j)] = midDose(level);
};
patches.forEach(([z0, y0, z1, y1, level]) => {
    for (let i = zIndex(z0); i <= zIndex(z1); i++) {
        for (let j = yIndex(y1); j <= yIndex(y0); j++) nudge(i, j, level);
    }
});
mottleRows.forEach(([v, level, spans]) => {
    for (let s = 0; s < spans.length; s += 2) {
        for (let i = zIndex(spans[s]); i <= zIndex(spans[s + 1]); i++) nudge(i, yIndex(v), level);
    }
});
specks.forEach(([z, v, level]) => {
    dose[cell(zIndex(z), yIndex(v))] = midDose(level);
});

[upperStreaks, lowerStreaks, fineStreaks, fringeStreaks, stripStreaks, paleStreaks].forEach(list => {
    list.forEach(track => {
        const added = track[0], seen = new Set();
        d3.pairs(track.slice(1)).forEach(([a, b]) => {
            const n = Math.ceil(Math.hypot(b[0] - a[0], b[1] - a[1]) / 0.5);
            for (let s = 0; s <= n; s++) {
                const i = zIndex(a[0] + (b[0] - a[0]) * s / n);
                const j = yIndex(a[1] + (b[1] - a[1]) * s / n);
                if (i >= 0 && i < zBins.length && j >= 0 && j < yBins.length) seen.add(cell(i, j));
            }
        });
        seen.forEach(c => { dose[c] += added; });
    });
});

// core row drawn last, it is hotter than anything around it
coreLevels.forEach((level, k) => {
    zBins.forEach((z0, i) => {
        const zc = z0 + zStep / 2;
        if (zc >= coreEdges[k] && zc < coreEdges[k + 1]) {
            [yIndex(-2), yIndex(0)].forEach(j => { dose[cell(i, j)] = midDose(level); });
        }
    });
});

// merge runs in each row, one path per colour band
const runs = bandColors.map(() => d3.path());
yBins.forEach((y0, j) => {
    let start = 0, current = bandOf(dose[cell(0, j)]);
    for (let i = 1; i <= zBins.length; i++) {
        const b = i < zBins.length ? bandOf(dose[cell(i, j)]) : -1;
        if (b !== current) {
            if (current > 0) {
                const zEnd = i < zBins.length ? zBins[i] : 200;
                runs[current].rect(x(zBins[start]), y(y0 + yStep), x(zEnd) - x(zBins[start]), y(y0) - y(y0 + yStep));
            }
            start = i;
            current = b;
        }
    }
});

svg.append("g").attr("class", "dose-map").attr("clip-path", "url(#frame)")
    .selectAll("path")
    .data(bandColors.map((c, i) => ({ color: c, path: runs[i].toString() })).filter((d, i) => i > 0))
    .join("path")
    .attr("d", d => d.path)
    .attr("fill", d => d.color)
    .attr("shape-rendering", "crispEdges");

// ---- wall outlines
const geometry = svg.append("g").attr("fill", "none").attr("stroke", "#000").attr("stroke-width", 2.5);
[outlineUpper, outlineLower, outlineDarkTop, outlineDarkBottom, outlineTarget].forEach(d => {
    geometry.append("path").attr("d", line(d));
});

// ---- axes, ticks pointing into the frame
const tickLen = 20, labelSize = 56;
const styleAxis = g => {
    g.select(".domain").attr("stroke", "#000").attr("stroke-width", 2.5);
    g.selectAll(".tick line").attr("stroke", "#000").attr("stroke-width", 2);
    g.selectAll("text").attr("font-size", labelSize).attr("font-family", "Liberation Sans");
};

svg.append("g").attr("transform", `translate(0,${plot.bottom})`)
    .call(d3.axisBottom(x).tickValues(zTicks).tickSize(-tickLen).tickPadding(31).tickFormat(String))
    .call(styleAxis)
    .call(g => g.selectAll(".tick text").attr("dx", d => d >= 0 ? 6 : 0));
svg.append("g").attr("transform", `translate(0,${plot.top})`)
    .call(d3.axisTop(x).tickValues(zTicks).tickSize(-tickLen).tickFormat(""))
    .call(styleAxis);
svg.append("g").attr("transform", `translate(${plot.left},0)`)
    .call(d3.axisLeft(y).tickValues(yTicks).tickSize(-tickLen).tickPadding(24).tickFormat(String))
    .call(styleAxis)
    .call(g => g.selectAll(".tick text").attr("y", d => d === 200 ? 4 : 1));
svg.append("g").attr("transform", `translate(${plot.right},0)`)
    .call(d3.axisRight(y).tickValues(yTicks).tickSize(-tickLen).tickFormat(""))
    .call(styleAxis);

// ---- colour bar
const barGroup = svg.append("g");
barGroup.selectAll("rect")
    .data(bandColors)
    .join("rect")
    .attr("x", bar.left + 2)
    .attr("width", bar.right - bar.left - 4)
    .attr("y", (d, i) => doseScale(Math.pow(10, bandEdges[i + 1])))
    .attr("height", (d, i) => doseScale(Math.pow(10, bandEdges[i])) - doseScale(Math.pow(10, bandEdges[i + 1])))
    .attr("fill", d => d)
    .attr("shape-rendering", "crispEdges");
barGroup.append("rect")
    .attr("x", bar.left).attr("y", plot.top)
    .attr("width", bar.right - bar.left).attr("height", plot.bottom - plot.top)
    .attr("fill", "none").attr("stroke", "#000").attr("stroke-width", 2.5);

const decadeY = e => doseScale(Math.pow(10, e));
barGroup.selectAll("line.left")
    .data(doseDecades.slice(1, -1))
    .join("line").attr("class", "left")
    .attr("x1", bar.left).attr("x2", bar.left + 18)
    .attr("y1", decadeY).attr("y2", decadeY)
    .attr("stroke", "#000").attr("stroke-width", 2);
barGroup.selectAll("line.right")
    .data(doseDecades.slice(1, -1))
    .join("line").attr("class", "right")
    .attr("x1", bar.right - 18).attr("x2", bar.right)
    .attr("y1", decadeY).attr("y2", decadeY)
    .attr("stroke", "#000").attr("stroke-width", 2);

const decadeLabel = barGroup.selectAll("text")
    .data(doseDecades)
    .join("text")
    .attr("x", 2034)
    .attr("y", d => decadeY(d) + 27)
    .attr("font-size", labelSize);
decadeLabel.append("tspan").text("10");
decadeLabel.append("tspan")
    .attr("dy", -24)
    .attr("font-size", 40)
    .text(d => String(d));

// ---- titles
svg.append("text").attr("x", 1119).attr("y", 194).attr("text-anchor", "middle").attr("font-size", 71.8)
    .text("Dose Equivalent / 2.8 Gev Beam at 40 kHz");
svg.append("text").attr("x", 1132).attr("y", 1548).attr("text-anchor", "middle").attr("font-size", 64)
    .text("Z [cm] (beam)");
svg.append("text").attr("transform", "translate(186,803) rotate(-90)").attr("text-anchor", "middle").attr("font-size", 64)
    .text("Y [cm] (vertical)");
svg.append("text").attr("transform", "translate(2219,803) rotate(-90)").attr("text-anchor", "middle").attr("font-size", 64)
    .text("Dose [mSv/a]");
</script>
</body>
</html>
